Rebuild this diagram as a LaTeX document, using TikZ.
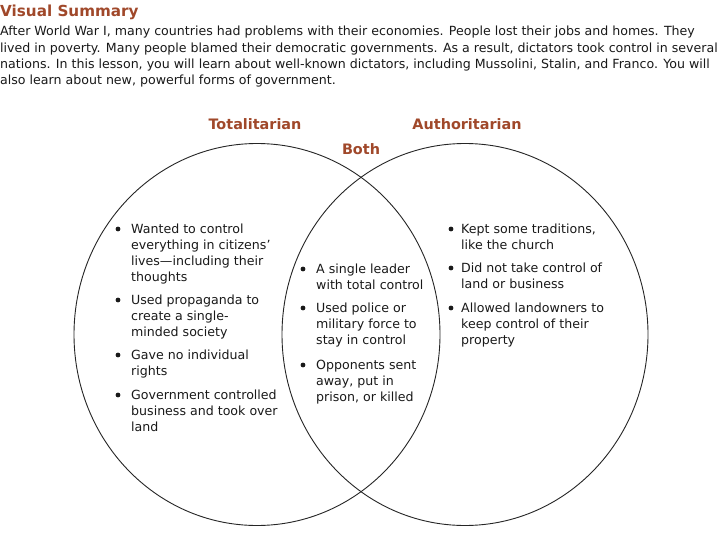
\documentclass[tikz,border=0pt]{standalone}
\usepackage{fontspec}
\setmainfont{DejaVu Sans}
\definecolor{headbrown}{RGB}{160,72,42}
\definecolor{txt}{RGB}{25,25,25}
\begin{document}
\begin{tikzpicture}[x=1pt,y=1pt,
  item/.style={anchor=north west, inner sep=0pt, align=left, text=txt,
    font=\fontsize{12.6}{16}\selectfont},
  bul/.style={circle, fill=txt, inner sep=0pt, minimum size=4.8pt},
  head/.style={text=headbrown, font=\bfseries\fontsize{14.4}{16}\selectfont, inner sep=0pt},
  ring/.style={draw=black!85, line width=0.9pt}]
\useasboundingbox (0,0) rectangle (720,-540);
\fill[white] (0,0) rectangle (720,-540);
\node[anchor=west, inner sep=0pt, text=headbrown, font=\bfseries\fontsize{15.2}{17}\selectfont] (title) at (0,-12) {Visual Summary};
\node[anchor=north west, inner sep=0pt, align=left, text=txt, font=\fontsize{12.6}{16.3}\selectfont] (intro) at (0,-26)
{After World War I, many countries had problems with their economies. People lost their jobs and homes. They\\
lived in poverty. Many people blamed their democratic governments. As a result, dictators took control in several\\
nations. In this lesson, you will learn about well-known dictators, including Mussolini, Stalin, and Franco. You will\\
also learn about new, powerful forms of government.};

\node[head] (ltot) at (255,-124) {Totalitarian};
\node[head] (lauth) at (467,-124) {Authoritarian};
\node[head] (lboth) at (361,-149) {Both};

\draw[ring] (257,-334.5) ellipse [x radius=183, y radius=191];
\draw[ring] (465,-334.5) ellipse [x radius=183, y radius=191];

% left items
\node[item] (l1) at (131,-224) {Wanted to control\\everything in citizens’\\lives—including their\\thoughts};
\node[item] (l2) at (131,-295) {Used propaganda to\\create a single-\\minded society};
\node[item] (l3) at (131,-350) {Gave no individual\\rights};
\node[item] (l4) at (131,-390) {Government controlled\\business and took over\\land};
\node[bul] (bl1) at (118,-229) {};
\node[bul] (bl2) at (118,-300) {};
\node[bul] (bl3) at (118,-355) {};
\node[bul] (bl4) at (118,-395) {};

% middle items
\node[item] (m1) at (316,-264) {A single leader\\with total control};
\node[item] (m2) at (316,-303) {Used police or\\military force to\\stay in control};
\node[item] (m3) at (316,-360) {Opponents sent\\away, put in\\prison, or killed};
\node[bul] (bm1) at (303,-269) {};
\node[bul] (bm2) at (303,-308) {};
\node[bul] (bm3) at (303,-365) {};

% right items
\node[item] (r1) at (461,-224) {Kept some traditions,\\like the church};
\node[item] (r2) at (461,-263) {Did not take control of\\land or business};
\node[item] (r3) at (461,-303) {Allowed landowners to\\keep control of their\\property};
\node[bul] (br1) at (451,-229) {};
\node[bul] (br2) at (451,-268) {};
\node[bul] (br3) at (451,-308) {};
\end{tikzpicture}
\end{document}
